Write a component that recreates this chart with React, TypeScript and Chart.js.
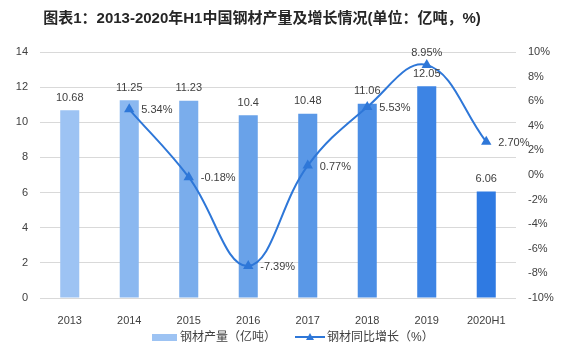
import React, { useEffect, useRef } from "react";
import { Chart, registerables } from "chart.js";

Chart.register(...registerables);

const categories = ["2013", "2014", "2015", "2016", "2017", "2018", "2019", "2020H1"];
const output = [10.68, 11.25, 11.23, 10.4, 10.48, 11.06, 12.05, 6.06];
const growth: (number | null)[] = [null, 5.34, -0.18, -7.39, 0.77, 5.53, 8.95, 2.7];
const leftTicks = [0, 2, 4, 6, 8, 10, 12, 14];
const rightTicks = [-10, -8, -6, -4, -2, 0, 2, 4, 6, 8, 10];
const titleText = "图表1：2013-2020年H1中国钢材产量及增长情况(单位：亿吨，%)";
const barLegend = "钢材产量（亿吨）";
const lineLegend = "钢材同比增长（%）";

const barColors = ["#9dc3f3", "#8bb8f0", "#7aadec", "#69a2e9", "#5a98e7", "#4b8ee5", "#3d84e4", "#2f7ae2"];
const lineColor = "#2e77d8";
const FONT = "'Liberation Sans', 'Noto Sans CJK SC', sans-serif";

const overlay = {
  id: "overlay",
  afterDatasetsDraw(chart: any) {
    const ctx = chart.ctx;
    ctx.save();
    const barMeta = chart.getDatasetMeta(0);
    ctx.font = `11px ${FONT}`;
    ctx.fillStyle = "#404040";
    ctx.textAlign = "center";
    ctx.textBaseline = "bottom";
    barMeta.data.forEach((el: any, i: number) => {
      ctx.fillText(String(output[i]), el.x, el.y - 7);
    });
    const lineMeta = chart.getDatasetMeta(1);
    lineMeta.data.forEach((el: any, i: number) => {
      const v = growth[i];
      if (v == null) return;
      const txt = v.toFixed(2) + "%";
      if (i === 6) {
        ctx.textAlign = "center";
        ctx.textBaseline = "bottom";
        ctx.fillText(txt, el.x, el.y - 6);
      } else {
        ctx.textAlign = "left";
        ctx.textBaseline = "middle";
        ctx.fillText(txt, el.x + 12, el.y + 1);
      }
    });
    ctx.restore();
  },
  afterDraw(chart: any) {
    const ctx = chart.ctx;
    ctx.save();
    ctx.font = `bold 15px ${FONT}`;
    ctx.fillStyle = "#262626";
    ctx.textAlign = "center";
    ctx.textBaseline = "middle";
    ctx.fillText(titleText, 262, 19);
    const ly = 337;
    ctx.fillStyle = barColors[0];
    ctx.fillRect(152, ly - 3, 25, 7);
    ctx.font = `12px ${FONT}`;
    ctx.fillStyle = "#404040";
    ctx.textAlign = "left";
    ctx.fillText(barLegend, 180, ly + 1);
    ctx.strokeStyle = lineColor;
    ctx.lineWidth = 2;
    ctx.beginPath();
    ctx.moveTo(295, ly);
    ctx.lineTo(325, ly);
    ctx.stroke();
    ctx.fillStyle = lineColor;
    ctx.beginPath();
    ctx.moveTo(310, ly - 4);
    ctx.lineTo(314, ly + 3);
    ctx.lineTo(306, ly + 3);
    ctx.closePath();
    ctx.fill();
    ctx.fillStyle = "#404040";
    ctx.fillText(lineLegend, 327, ly + 1);
    ctx.restore();
  },
};

export default function App() {
  const ref = useRef<HTMLCanvasElement | null>(null);
  useEffect(() => {
    document.body.style.margin = "0";
    const chart = new Chart(ref.current as HTMLCanvasElement, {
      data: {
        labels: categories,
        datasets: [
          {
            type: "bar",
            label: barLegend,
            data: output,
            backgroundColor: barColors,
            yAxisID: "y",
            barPercentage: 0.64,
            categoryPercentage: 0.5,
            order: 2,
          },
          {
            type: "line",
            label: lineLegend,
            data: growth,
            borderColor: lineColor,
            backgroundColor: lineColor,
            borderWidth: 2,
            pointStyle: "triangle",
            pointRadius: 6,
            pointBackgroundColor: lineColor,
            pointBorderWidth: 0,
            tension: 0.4,
            yAxisID: "y1",
            order: 1,
          },
        ],
      } as any,
      options: {
        animation: false,
        responsive: false,
        maintainAspectRatio: false,
        layout: { padding: { top: 52, bottom: 0, left: 0, right: 0 } },
        plugins: { legend: { display: false }, title: { display: false }, tooltip: { enabled: false } },
        scales: {
          x: {
            grid: { display: false },
            border: { display: false },
            ticks: { color: "#404040", font: { size: 11, family: FONT }, padding: 8, maxRotation: 0 },
            afterFit: (s: any) => { s.height = 55; },
          },
          y: {
            position: "left",
            min: 0,
            max: 14,
            afterBuildTicks: (s: any) => { s.ticks = leftTicks.map((v) => ({ value: v })); },
            grid: { color: "#d9d9d9", drawTicks: false },
            border: { display: false },
            ticks: { color: "#404040", font: { size: 11, family: FONT }, padding: 12 },
            afterFit: (s: any) => { s.width = 40; },
          },
          y1: {
            position: "right",
            min: -10,
            max: 10,
            afterBuildTicks: (s: any) => { s.ticks = rightTicks.map((v) => ({ value: v })); },
            grid: { display: false, drawTicks: false },
            border: { display: false },
            ticks: { color: "#404040", font: { size: 11, family: FONT }, padding: 12, callback: (v: any) => v + "%" },
            afterFit: (s: any) => { s.width = 48; },
          },
        },
      },
      plugins: [overlay],
    });
    return () => chart.destroy();
  }, []);
  return (
    <div style={{ position: "absolute", left: 0, top: 0, width: 564, height: 353, background: "#fff" }}>
      <canvas ref={ref} width={564} height={353} style={{ width: 564, height: 353 }} />
    </div>
  );
}
